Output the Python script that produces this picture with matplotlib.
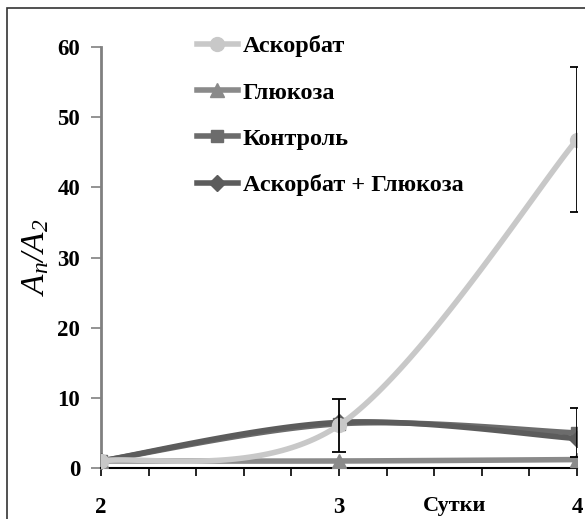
import numpy as np
import matplotlib
matplotlib.use("Agg")
import matplotlib.pyplot as plt
from matplotlib.patches import Rectangle

plt.rcParams['font.family'] = ['Liberation Serif', 'DejaVu Serif']
plt.rcParams['mathtext.fontset'] = 'custom'
plt.rcParams['mathtext.it'] = 'Liberation Serif:italic'
plt.rcParams['mathtext.rm'] = 'Liberation Serif:italic'

# data
days = [2, 3, 4]
names = ['Аскорбат', 'Глюкоза', 'Контроль', 'Аскорбат + Глюкоза']
ascorbate = [1.0, 6.1, 46.8]
glucose = [1.0, 1.0, 1.2]
control = [1.0, 6.3, 5.0]
asc_glu = [1.0, 6.5, 4.2]
asc_err = [0, 3.8, 10.3]
control_err = [0, 0, 3.5]

colors = ['#c8c8c8', '#8a8a8a', '#6c6c6c', '#5c5c5c']
markers = ['o', '^', 's', 'D']
msizes = [10, 10, 9, 8]


def smooth(x, y, n=60):
    # catmull-rom style smoothing like Excel's smoothed lines
    x = np.asarray(x, float)
    y = np.asarray(y, float)
    px = np.r_[x[0], x, x[-1]]
    py = np.r_[y[0], y, y[-1]]
    xs, ys = [], []
    for i in range(1, len(px) - 2):
        t = np.linspace(0, 1, n)
        p0, p1, p2, p3 = px[i-1:i+3]
        q0, q1, q2, q3 = py[i-1:i+3]
        m1x, m2x = (p2 - p0) / 2, (p3 - p1) / 2
        m1y, m2y = (q2 - q0) / 2, (q3 - q1) / 2
        h00 = 2*t**3 - 3*t**2 + 1
        h10 = t**3 - 2*t**2 + t
        h01 = -2*t**3 + 3*t**2
        h11 = t**3 - t**2
        xs.append(h00*p1 + h10*m1x + h01*p2 + h11*m2x)
        ys.append(h00*q1 + h10*m1y + h01*q2 + h11*m2y)
    return np.concatenate(xs), np.concatenate(ys)


fig = plt.figure(figsize=(5.85, 5.19), dpi=100)
ax = fig.add_axes([101/585, 1 - 468/519, (577-101)/585, (468-47)/519])

series = [ascorbate, glucose, control, asc_glu]
zorders = [5, 4, 3, 3.5]
for vals, name, c, m, ms, z in zip(series, names, colors, markers, msizes, zorders):
    sx, sy = smooth(days, vals)
    ax.plot(sx, sy, color=c, lw=4, zorder=z, solid_capstyle='round')
    ax.plot(days, vals, linestyle='none', marker=m, ms=ms, color=c, zorder=z)
    ax.plot([], [], color=c, lw=4, marker=m, ms=ms, label=name)

ax.errorbar(days[1:], ascorbate[1:], yerr=asc_err[1:], fmt='none', ecolor='black',
            elinewidth=1.3, capsize=5, capthick=1.3, zorder=6)
ax.errorbar(days[2:], control[2:], yerr=control_err[2:], fmt='none', ecolor='black',
            elinewidth=1.3, capsize=5, capthick=1.3, zorder=6)

ax.set_xlim(2, 4)
ax.set_ylim(0, 60)
ax.set_xticks(days)
ax.set_xticks(np.arange(2, 4.01, 0.2), minor=True)
ax.set_yticks(range(0, 61, 10))

for s in ['top', 'right']:
    ax.spines[s].set_visible(False)
ax.spines['left'].set_color('#808080')
ax.spines['left'].set_linewidth(2)
ax.spines['bottom'].set_color('black')
ax.spines['bottom'].set_linewidth(1.5)

ax.tick_params(axis='y', length=7, width=1.2, color='#808080', pad=8, labelsize=16.5)
ax.tick_params(axis='x', which='both', length=6, width=1.2, color='black', pad=15, labelsize=16.5)
for lab in ax.get_xticklabels() + ax.get_yticklabels():
    lab.set_fontweight('bold')

ax.set_ylabel(r'$A_n/A_2$', fontsize=24)
ax.yaxis.set_label_coords(-0.105, 0.5)
ax.text(0.742, -0.09, 'Сутки', transform=ax.transAxes, ha='center', va='center',
        fontsize=16, fontweight='bold')

leg = ax.legend(loc='upper left', bbox_to_anchor=(0.155, 1.08), frameon=False,
                handlelength=1.7, handletextpad=0.2, labelspacing=1.0,
                prop={'size': 17.5, 'weight': 'bold'})

fig.patches.append(Rectangle((7/585, -0.05), 1.1, 1 - 8/519 + 0.05, transform=fig.transFigure,
                             fill=False, edgecolor='#333333', lw=1.2))

fig.savefig('out.png', dpi=100)
